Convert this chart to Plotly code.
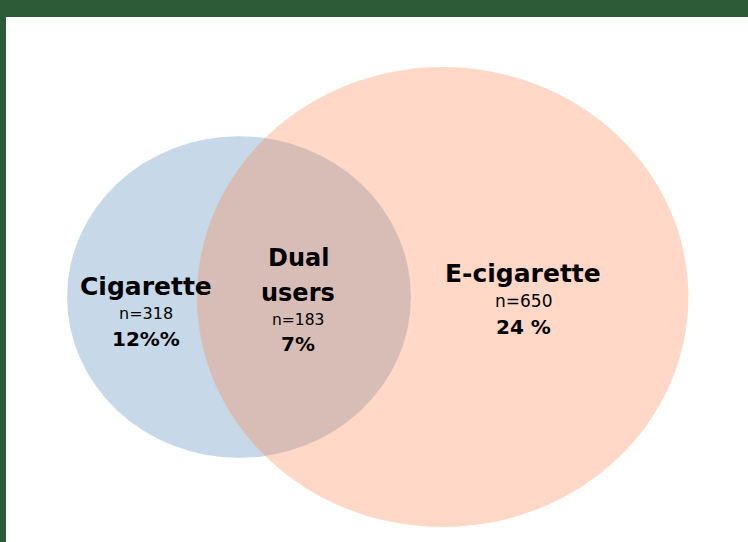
import math
import plotly.graph_objects as go

# ---- data ----
groups = ["Cigarette", "E-cigarette"]
group_n = [318, 650]
overlap_label = "Dual<br>users"
overlap_n = 183
pct_labels = ["12%%", "24 %", "7%"]

# ---- geometry (area-proportional Venn) ----
r1 = math.sqrt(group_n[0])
r2 = math.sqrt(group_n[1])

def lens_area(d):
    if d >= r1 + r2:
        return 0.0
    if d <= abs(r2 - r1):
        return math.pi * min(r1, r2) ** 2
    d1 = (d * d + r1 * r1 - r2 * r2) / (2 * d)
    d2 = d - d1
    a1 = r1 * r1 * math.acos(d1 / r1) - d1 * math.sqrt(r1 * r1 - d1 * d1)
    a2 = r2 * r2 * math.acos(d2 / r2) - d2 * math.sqrt(r2 * r2 - d2 * d2)
    return a1 + a2

target = math.pi * overlap_n
lo, hi = abs(r2 - r1) + 1e-6, r1 + r2 - 1e-6
for _ in range(100):
    mid = (lo + hi) / 2
    if lens_area(mid) > target:
        lo = mid
    else:
        hi = mid
d = (lo + hi) / 2

c1 = (0.0, 0.0)
c2 = (d, 0.0)

# pixel mapping (layout)
W, H = 748, 542
SX, SY = 9.64, 9.02
PX0, PY0 = 239, 297
def X(px):
    return (px - PX0) / SX
def Y(py):
    return (PY0 - py) / SY

fig = go.Figure()
fig.add_trace(go.Scatter(x=[X(0), X(W)], y=[Y(0), Y(H)], mode="markers",
                         marker=dict(opacity=0), hoverinfo="skip", showlegend=False))

fig.add_shape(type="circle", xref="x", yref="y",
              x0=c1[0] - r1, x1=c1[0] + r1, y0=c1[1] - r1, y1=c1[1] + r1,
              fillcolor="rgba(70,130,180,0.3)", line=dict(width=0), layer="below")
fig.add_shape(type="circle", xref="x", yref="y",
              x0=c2[0] - r2, x1=c2[0] + r2, y0=c2[1] - r2, y1=c2[1] + r2,
              fillcolor="rgba(255,127,70,0.3)", line=dict(width=0), layer="below")

# green frame
green = "#2d5b37"
fig.add_shape(type="rect", xref="paper", yref="paper", x0=0, x1=1, y0=1 - 17 / H, y1=1,
              fillcolor=green, line=dict(width=0))
fig.add_shape(type="rect", xref="paper", yref="paper", x0=0, x1=6 / W, y0=0, y1=1,
              fillcolor=green, line=dict(width=0))

FONT = "DejaVu Sans, sans-serif"
def ann(text, px, py, size, weight):
    fig.add_annotation(x=X(px), y=Y(py), text=text, showarrow=False,
                       xanchor="center", yanchor="middle",
                       font=dict(family=FONT, size=size, color="#000000", weight=weight))

ann(groups[0], 146, 286, 25, 700)
ann(f"n={group_n[0]}", 146, 313, 16, 400)
ann(pct_labels[0], 146, 339, 20, 700)

ann(overlap_label.split("<br>")[0], 298, 258, 24, 700)
ann(overlap_label.split("<br>")[1], 298, 293, 24, 700)
ann(f"n={overlap_n}", 298, 320, 15.5, 400)
ann(pct_labels[2], 298, 344, 20, 700)

ann(groups[1], 523, 273, 25, 700)
ann(f"n={group_n[1]}", 523, 301, 17, 400)
ann(pct_labels[1], 523, 327, 20, 700)

fig.update_layout(
    width=W, height=H, margin=dict(l=0, r=0, t=0, b=0),
    paper_bgcolor="white", plot_bgcolor="white",
    xaxis=dict(range=[X(0), X(W)], visible=False, fixedrange=True),
    yaxis=dict(range=[Y(H), Y(0)], visible=False, fixedrange=True),
    showlegend=False,
)

fig.write_html("out.html", config={"displayModeBar": False},
               post_script="document.body.style.margin='0px';")
